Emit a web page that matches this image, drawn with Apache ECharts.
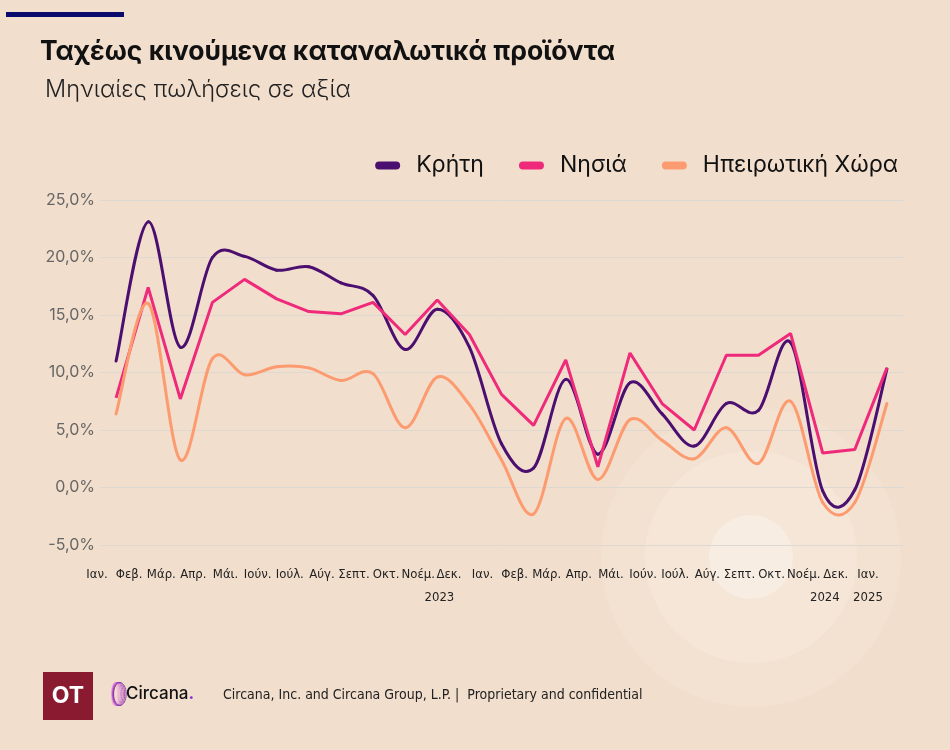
<!DOCTYPE html>
<html>
<head>
<meta charset="utf-8">
<script src="https://cdn.jsdelivr.net/npm/echarts@6/dist/echarts.min.js"></script>
<style>
html,body{margin:0;padding:0;background:#F2DECC;}
#c{width:950px;height:750px;}
</style>
</head>
<body>
<div id="c"></div>
<script>
var categories = ['Ιαν.','Φεβ.','Μάρ.','Απρ.','Μάι.','Ιούν.','Ιούλ.','Αύγ.','Σεπτ.','Οκτ.','Νοέμ.','Δεκ.',
  'Ιαν.','Φεβ.','Μάρ.','Απρ.','Μάι.','Ιούν.','Ιούλ.','Αύγ.','Σεπτ.','Οκτ.','Νοέμ.','Δεκ.','Ιαν.'];
var yearLabels = {11: '2023', 23: '2024', 24: '2025'};
var kriti = [11.0, 23.1, 12.2, 20.0, 20.1, 18.9, 19.2, 17.8, 16.7, 12.0, 15.5, 12.2, 3.8, 1.7, 9.4, 2.9, 9.1, 6.4, 3.6, 7.3, 6.7, 12.6, -0.3, -0.2, 10.3];
var nisia = [7.8, 17.4, 7.7, 16.1, 18.1, 16.4, 15.3, 15.1, 16.1, 13.3, 16.3, 13.3, 8.1, 5.4, 11.1, 1.8, 11.7, 7.3, 5.0, 11.5, 11.5, 13.4, 3.0, 3.3, 10.4];
var ipeiros = [6.4, 16.0, 2.4, 11.2, 9.8, 10.5, 10.4, 9.3, 9.9, 5.2, 9.6, 7.2, 2.4, -2.3, 6.0, 0.7, 5.9, 4.1, 2.5, 5.2, 2.1, 7.5, -1.3, -1.3, 7.3];
var seriesNames = ['Κρήτη', 'Νησιά', 'Ηπειρωτική Χώρα'];
var yTicks = {min: -5, max: 25, step: 5};

var COLORS = ['#4B0F70', '#EF2A7A', '#FD9B70'];
var COND = '"Liberation Sans Narrow","DejaVu Sans Condensed",sans-serif';
var SANS = 'Inter,"Noto Sans",sans-serif';
var pill = 'path://M4,0 H21 A4,4 0 0 1 21,8 H4 A4,4 0 0 1 4,0 Z';

function toPairs(arr) { return arr.map(function (v, i) { return [i, v]; }); }

// Catmull-Rom style smooth curve, one segment per data item, positioned by the chart's own axes
function splineRender(arr, color) {
  return function (params, api) {
    var i = params.dataIndex;
    if (i >= arr.length - 1) return null;
    var p = function (k) {
      k = Math.max(0, Math.min(arr.length - 1, k));
      return api.coord([k, arr[k]]);
    };
    var p0 = p(i - 1), p1 = p(i), p2 = p(i + 1), p3 = p(i + 2);
    return {
      type: 'bezierCurve',
      shape: {
        x1: p1[0], y1: p1[1], x2: p2[0], y2: p2[1],
        cpx1: p1[0] + (p2[0] - p0[0]) / 6, cpy1: p1[1] + (p2[1] - p0[1]) / 6,
        cpx2: p2[0] - (p3[0] - p1[0]) / 6, cpy2: p2[1] - (p3[1] - p1[1]) / 6
      },
      style: {stroke: color, fill: null, lineWidth: 3, lineCap: 'round'}
    };
  };
}

var labelRich = {
  m: {fontFamily: COND, fontSize: 13, color: '#222', lineHeight: 23},
  y: {fontFamily: COND, fontSize: 13, color: '#222', lineHeight: 23},
  m2: {fontFamily: COND, fontSize: 13, color: '#222', lineHeight: 23, padding: [0, 3, 0, 0]},
  y2: {fontFamily: COND, fontSize: 13, color: '#222', lineHeight: 23, padding: [0, 22, 0, 0]},
  y3: {fontFamily: COND, fontSize: 13, color: '#222', lineHeight: 23, padding: [0, 22, 0, 0]}
};

var ringColors = ['#F0B8E2', '#E49AD8', '#D67ECE', '#C464C6', '#AE4EBE', '#963EB6', '#7E30AC'];
var ringEls = ringColors.map(function (c, k) {
  return {type: 'ellipse', silent: true, shape: {cx: 114.5 + k * 0.9, cy: 694, rx: 3 + k * 0.55, ry: 11.5},
          style: {fill: 'none', stroke: c, lineWidth: 0.9}};
});

var chart = echarts.init(document.getElementById('c'), null, {renderer: 'canvas'});
chart.setOption({
  backgroundColor: '#F2DECC',
  animation: false,
  color: COLORS,
  title: [
    {text: 'Ταχέως κινούμενα καταναλωτικά προϊόντα', left: 40, top: 39, padding: 0,
     textStyle: {fontFamily: SANS, fontSize: 26.5, fontWeight: 'bold', color: '#111'}},
    {text: 'Μηνιαίες πωλήσεις σε αξία', left: 45, top: 78, padding: 0,
     textStyle: {fontFamily: SANS, fontSize: 23.5, fontWeight: 300, color: '#222'}}
  ],
  legend: {
    right: 47, top: 149, itemWidth: 25, itemHeight: 8, itemGap: 35, icon: pill,
    data: seriesNames,
    textStyle: {fontFamily: SANS, fontSize: 23, color: '#111', padding: [0, 0, 0, 11]}
  },
  grid: {left: 100, right: 47, top: 200, bottom: 205, containLabel: false},
  xAxis: {
    type: 'category', data: categories, boundaryGap: true,
    axisLine: {show: false}, axisTick: {show: false}, splitLine: {show: false},
    axisLabel: {interval: 0, margin: 18, fontFamily: COND, fontSize: 13, color: '#222',
                lineHeight: 23, padding: [0, 38, 0, 0], rich: labelRich,
                formatter: function (v, i) {
                  var y = yearLabels[i];
                  if (!y) return '{m|' + v + '}';
                  if (i === 11) return '{m2|' + v + '}\n{y2|' + y + '}';
                  if (i === 23) return '{m|' + v + '}\n{y3|' + y + '}';
                  return '{m|' + v + '}\n{y|' + y + '}';
                }}
  },
  yAxis: {
    type: 'value', min: yTicks.min, max: yTicks.max, interval: yTicks.step,
    axisLine: {show: false}, axisTick: {show: false},
    splitLine: {lineStyle: {color: '#DDD8D2', width: 1}},
    axisLabel: {margin: 5, fontFamily: SANS, fontSize: 16, color: '#666',
      formatter: function (v) { return v.toFixed(1).replace('.', ',') + '%'; }}
  },
  series: [
    {name: seriesNames[0], type: 'custom', coordinateSystem: 'cartesian2d', data: toPairs(kriti),
     encode: {x: 0, y: 1}, renderItem: splineRender(kriti, COLORS[0]), itemStyle: {color: COLORS[0]}, z: 3},
    {name: seriesNames[1], type: 'line', data: nisia, smooth: false, symbol: 'none',
     itemStyle: {color: COLORS[1]}, lineStyle: {width: 3, color: COLORS[1]}, z: 4},
    {name: seriesNames[2], type: 'custom', coordinateSystem: 'cartesian2d', data: toPairs(ipeiros),
     encode: {x: 0, y: 1}, renderItem: splineRender(ipeiros, COLORS[2]), itemStyle: {color: COLORS[2]}, z: 5}
  ],
  graphic: {elements: [
    {type: 'circle', z: -100, silent: true, shape: {cx: 751, cy: 557, r: 150}, style: {fill: '#F3E2D1'}},
    {type: 'circle', z: -99, silent: true, shape: {cx: 751, cy: 557, r: 106}, style: {fill: '#F5E6D7'}},
    {type: 'circle', z: -98, silent: true, shape: {cx: 751, cy: 557, r: 42}, style: {fill: '#F8EDE3'}},
    {type: 'rect', silent: true, shape: {x: 6, y: 12, width: 118, height: 5}, style: {fill: '#0A0A6E'}},
    {type: 'rect', silent: true, shape: {x: 43, y: 672, width: 50, height: 48}, style: {fill: '#8A1A30'}},
    {type: 'text', silent: true, x: 68, y: 696, style: {text: 'OT', fill: '#fff', font: 'bold 23px ' + SANS, align: 'center', verticalAlign: 'middle'}}
  ].concat(ringEls).concat([
    {type: 'text', silent: true, x: 126, y: 694, style: {text: '{a|Circana}{b|.}', verticalAlign: 'middle',
      rich: {a: {font: '500 17px ' + SANS, fill: '#111'}, b: {font: 'bold 17px ' + SANS, fill: '#8A2BE2'}}}},
    {type: 'text', silent: true, x: 223, y: 695, style: {text: 'Circana, Inc. and Circana Group, L.P. |  Proprietary and confidential',
      font: '14px ' + COND, fill: '#222', verticalAlign: 'middle'}}
  ])}
});
</script>
</body>
</html>
